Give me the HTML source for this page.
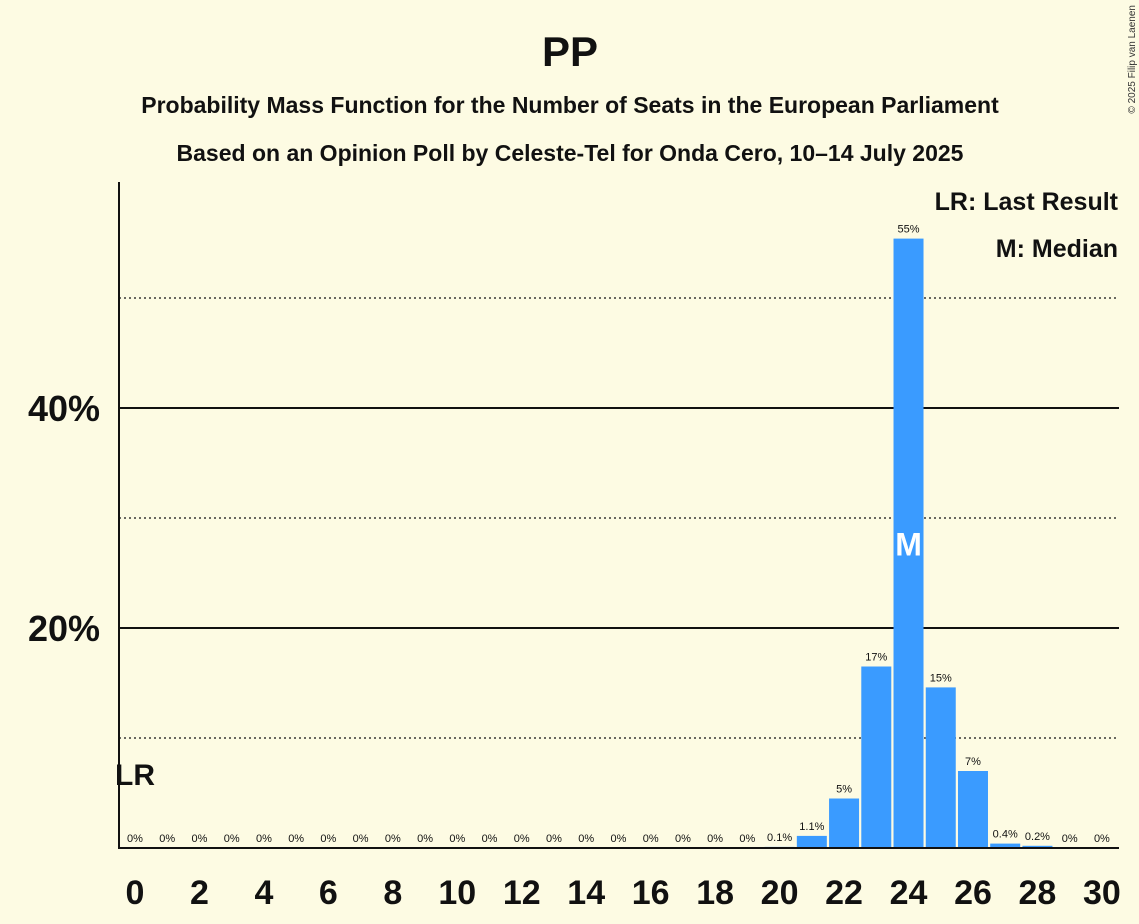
<!DOCTYPE html>
<html><head><meta charset="utf-8"><style>
body{margin:0;background:#fdfbe3;}
svg{display:block;font-family:"Liberation Sans",sans-serif;}
</style></head><body>
<svg id="c" width="1139" height="924">
<rect width="1139" height="924" fill="#fdfbe3"/>
<text x="570" y="66" text-anchor="middle" font-size="42" font-weight="bold" fill="#111">PP</text>
<text x="570" y="113" text-anchor="middle" font-size="23" font-weight="bold" fill="#111">Probability Mass Function for the Number of Seats in the European Parliament</text>
<text x="570" y="161" text-anchor="middle" font-size="23" font-weight="bold" fill="#111">Based on an Opinion Poll by Celeste-Tel for Onda Cero, 10–14 July 2025</text>
<text x="1135" y="5" font-size="10" fill="#333" transform="rotate(-90 1135 5)" text-anchor="end" dy="0">© 2025 Filip van Laenen</text>
<text x="1118" y="210" text-anchor="end" font-size="25" font-weight="bold" fill="#111">LR: Last Result</text>
<text x="1118" y="257" text-anchor="end" font-size="25" font-weight="bold" fill="#111">M: Median</text>
<g id="grid"></g><g id="bars"></g><g id="labels"></g>
<line x1="119" y1="182" x2="119" y2="849" stroke="#111" stroke-width="2"/>
<line x1="118" y1="848" x2="1119" y2="848" stroke="#111" stroke-width="2"/>
</svg>
<script>
const seats=[0,1,2,3,4,5,6,7,8,9,10,11,12,13,14,15,16,17,18,19,20,21,22,23,24,25,26,27,28,29,30];
const probs=[0,0,0,0,0,0,0,0,0,0,0,0,0,0,0,0,0,0,0,0,0.1,1.1,4.5,16.5,55.4,14.6,7.0,0.4,0.2,0,0];
const valueLabels=["0%","0%","0%","0%","0%","0%","0%","0%","0%","0%","0%","0%","0%","0%","0%","0%","0%","0%","0%","0%","0.1%","1.1%","5%","17%","55%","15%","7%","0.4%","0.2%","0%","0%"];
const solidTicks=[20,40];
const dottedTicks=[10,30,50];
const yTickLabels=["20%","40%"];
const xTickLabels=[0,2,4,6,8,10,12,14,16,18,20,22,24,26,28,30];
const lastResult=0, median=24;
const NS="http://www.w3.org/2000/svg";
const X=s=>135+s*32.23, Y=p=>848-p*11;
function mk(t,a,p){const e=document.createElementNS(NS,t);for(const k in a)e.setAttribute(k,a[k]);p.appendChild(e);return e;}
const g=document.getElementById('grid'),b=document.getElementById('bars'),l=document.getElementById('labels'),svg=document.getElementById('c');
dottedTicks.forEach(v=>{const e=mk('line',{x1:119,x2:1119,y1:Y(v),y2:Y(v),stroke:'#111','stroke-width':1.3,'stroke-dasharray':'2,3'},g);

});
solidTicks.forEach((v,i)=>{const e=mk('line',{x1:119,x2:1119,y1:Y(v),y2:Y(v),stroke:'#111','stroke-width':2},g);


const t=mk('text',{x:100,y:Y(v)+13,'text-anchor':'end','font-size':36,'font-weight':'bold',fill:'#111'},g);t.textContent=yTickLabels[i];

});
seats.forEach((s,i)=>{const p=probs[i];
if(p>0){const r=mk('rect',{x:X(s)-15,y:Y(p),width:30,height:848-Y(p),fill:'#3a9bff'},b);

}
const t=mk('text',{x:X(s),y:Y(p)-6,'text-anchor':'middle','font-size':11,fill:'#111'},l);t.textContent=valueLabels[i];


if(s===median){const m=mk('text',{x:X(s),y:Y(p/2)+12,'text-anchor':'middle','font-size':32,'font-weight':'bold',fill:'#fff'},l);m.textContent='M';

}
});
const lr=mk('text',{x:X(lastResult),y:785,'text-anchor':'middle','font-size':30,'font-weight':'bold',fill:'#111'},l);lr.textContent='LR';


xTickLabels.forEach(s=>{const t=mk('text',{x:X(s),y:904,'text-anchor':'middle','font-size':34,'font-weight':'bold',fill:'#111'},l);t.textContent=s;

});
</script>
</body></html>
